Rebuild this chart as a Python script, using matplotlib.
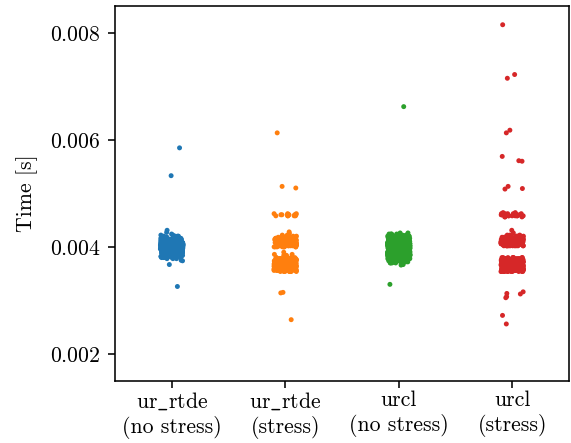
import numpy as np
import pandas as pd
import matplotlib
matplotlib.use('Agg')
import matplotlib.pyplot as plt
import seaborn as sns

plt.rcParams.update({
    'font.family': 'serif',
    'font.serif': ['cmr10'],
    'mathtext.fontset': 'cm',
    'axes.formatter.use_mathtext': True,
    'font.size': 11,
})

# categories
labels = ['ur$\\_$rtde\n(no stress)', 'ur$\\_$rtde\n(stress)',
          'urcl\n(no stress)', 'urcl\n(stress)']
colors = ['#1f77b4', '#ff7f0e', '#2ca02c', '#d62728']

# timing values, in ms: dense bands as levels + counts
rtde_ns_levels = [3.78, 3.80, 3.82, 3.84, 3.86, 3.88, 3.90, 3.92, 3.94, 3.96, 3.98, 4.00,
                  4.02, 4.04, 4.06, 4.08, 4.10, 4.12, 4.14, 4.16, 4.18, 4.20, 4.22, 4.24]
rtde_ns_counts = [3, 6, 10, 14, 20, 26, 30, 34, 38, 40, 42, 42,
                  40, 38, 34, 30, 26, 20, 14, 10, 7, 4, 2, 1]
rtde_ns_single = [5.85, 5.33, 4.31, 4.27, 3.67, 3.75, 3.74, 3.26]

rtde_s_levels = [3.54, 3.56, 3.58, 3.60, 3.62, 3.64, 3.66, 3.68, 3.70, 3.72, 3.74, 3.76,
                 3.78, 3.80, 3.84, 3.86,
                 4.00, 4.02, 4.04, 4.06, 4.08, 4.10, 4.12, 4.14, 4.16, 4.18, 4.20, 4.22,
                 4.58, 4.60, 4.62]
rtde_s_counts = [8, 16, 22, 26, 28, 30, 30, 30, 28, 26, 24, 20,
                 14, 8, 3, 2,
                 8, 16, 22, 24, 24, 22, 20, 16, 12, 8, 4, 2,
                 5, 8, 3]
rtde_s_single = [6.13, 5.13, 5.10, 4.28, 4.25, 3.90, 3.15, 3.14, 2.64]

urcl_ns_levels = [3.70, 3.72, 3.74, 3.76, 3.78, 3.80, 3.82, 3.84, 3.86, 3.88, 3.90, 3.92,
                  3.94, 3.96, 3.98, 4.00, 4.02, 4.04, 4.06, 4.08, 4.10, 4.12, 4.14, 4.16,
                  4.18, 4.20, 4.22, 4.24, 4.26]
urcl_ns_counts = [4, 8, 12, 16, 20, 24, 28, 30, 32, 34, 36, 36,
                  38, 38, 38, 38, 36, 36, 34, 32, 30, 28, 24, 20,
                  16, 12, 8, 4, 2]
urcl_ns_single = [6.62, 3.67, 3.66, 3.30]

urcl_s_levels = [3.54, 3.56, 3.58, 3.60, 3.62, 3.64, 3.66, 3.68, 3.70, 3.72, 3.74, 3.76,
                 3.78, 3.80,
                 4.02, 4.04, 4.06, 4.08, 4.10, 4.12, 4.14, 4.16, 4.18, 4.20, 4.22,
                 4.56, 4.58, 4.60, 4.62, 4.64]
urcl_s_counts = [12, 22, 30, 34, 36, 36, 36, 36, 34, 32, 28, 24,
                 16, 8,
                 12, 22, 28, 30, 30, 28, 24, 20, 14, 8, 3,
                 3, 8, 10, 6, 2]
urcl_s_single = [8.15, 7.15, 7.22, 6.18, 6.13, 5.69, 5.61, 5.60, 5.13, 5.09, 5.08,
                 4.31, 4.26, 3.16, 3.13, 3.12, 3.07, 3.05, 2.72, 2.56]

groups = [
    (rtde_ns_levels, rtde_ns_counts, rtde_ns_single),
    (rtde_s_levels, rtde_s_counts, rtde_s_single),
    (urcl_ns_levels, urcl_ns_counts, urcl_ns_single),
    (urcl_s_levels, urcl_s_counts, urcl_s_single),
]

rows = []
for lab, (lv, ct, single) in zip(labels, groups):
    vals = np.concatenate([np.repeat(lv, ct), single]) * 1e-3
    rows.append(pd.DataFrame({'setup': lab, 'time': vals}))
df = pd.concat(rows, ignore_index=True)

np.random.seed(3)
fig = plt.figure(figsize=(571 / 142.75, 443 / 142.75), dpi=142.75)
ax = fig.add_axes([115 / 571, 1 - 380.7 / 443, 454 / 571, 374.7 / 443])

sns.stripplot(data=df, x='setup', y='time', hue='setup', order=labels,
              palette=colors, size=2.5, jitter=True, legend=False, ax=ax)

ax.set_ylim(0.0015, 0.0085)
ax.set_yticks([0.002, 0.004, 0.006, 0.008])
ax.tick_params(axis='x', pad=1.5)
ax.set_xlabel('')
ax.set_ylabel('Time [s]', labelpad=6)

fig.savefig('out.png', dpi=142.75)
